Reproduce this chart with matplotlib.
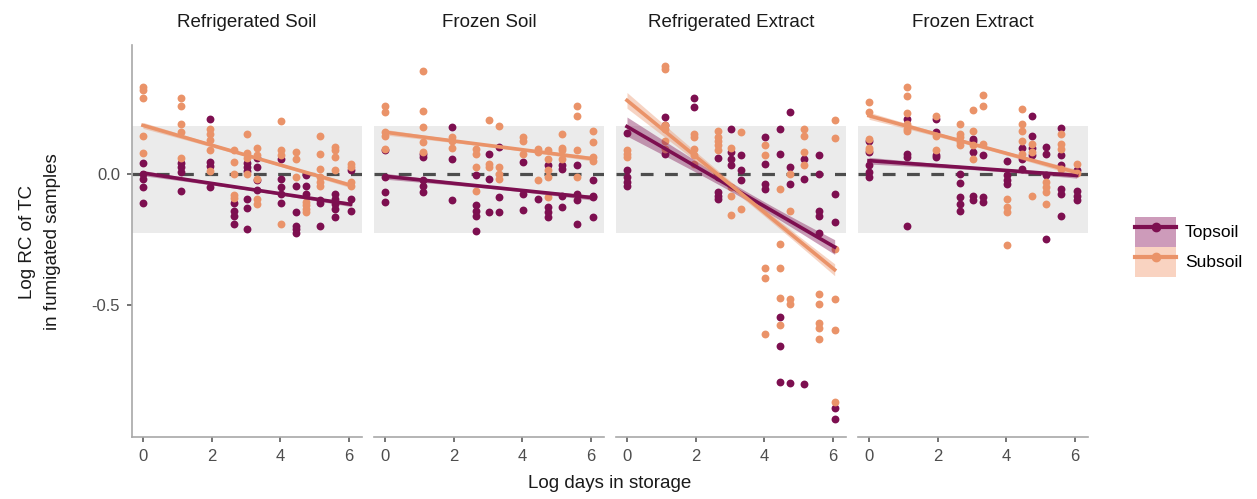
import numpy as np
import matplotlib.pyplot as plt
from matplotlib.patches import Patch
from matplotlib.lines import Line2D

plt.rcParams['font.family'] = ['Liberation Sans', 'DejaVu Sans']

# log storage days (x positions of sampling times)
log_days = [0, 1.1, 1.95, 2.64, 3.04, 3.33, 4.03, 4.45, 4.75, 5.15, 5.6, 6.05]

panels = ['Refrigerated Soil', 'Frozen Soil', 'Refrigerated Extract', 'Frozen Extract']
soils = ['Topsoil', 'Subsoil']

# values per time point
rs_top = [[0.04, 0.0, -0.02, -0.05, -0.11], [0.04, 0.025, 0.006, -0.064],
          [0.21, 0.045, 0.03, -0.05], [-0.11, -0.14, -0.19, -0.16],
          [0.04, 0.025, 0.01, -0.095, -0.13, -0.21], [0.06, 0.025, -0.025, -0.06],
          [0.057, -0.02, -0.05, -0.076, -0.11], [-0.045, -0.146, -0.197, -0.21, -0.226],
          [-0.006, -0.045, -0.076], [-0.1, -0.11, -0.197],
          [-0.076, -0.095, -0.115, -0.134, -0.165], [0.013, -0.095, -0.14]]
rs_sub = [[0.33, 0.32, 0.29, 0.144, 0.08], [0.29, 0.26, 0.19, 0.16, 0.06],
          [0.17, 0.15, 0.13, 0.09, 0.01], [0.09, 0.045, 0.0, -0.08, -0.09],
          [0.15, 0.08, 0.06, 0.0], [0.10, 0.07, -0.02, -0.095, -0.115],
          [0.20, 0.09, 0.07, -0.19], [0.083, 0.057, -0.013],
          [-0.108, -0.12, -0.134, -0.146], [0.146, 0.076, 0.019, -0.013, -0.032, -0.045],
          [0.104, 0.089, 0.064, 0.015], [0.038, 0.025, -0.03, -0.045]]

fs_top = [[0.089, -0.013, -0.07, -0.108], [0.076, 0.066, -0.025, -0.045, -0.07],
          [0.178, 0.057, -0.1], [-0.006, -0.12, -0.14, -0.16, -0.216],
          [0.076, -0.019, -0.146], [0.104, -0.089, -0.146],
          [0.045, -0.076, -0.137], [-0.095],
          [0.032, -0.127, -0.146, -0.165], [0.032, 0.019, -0.083, -0.127],
          [0.032, -0.076, -0.1, -0.19], [-0.025, -0.083, -0.089, -0.165]]
fs_sub = [[0.26, 0.235, 0.16, 0.146, 0.095], [0.39, 0.24, 0.18, 0.12, 0.083],
          [0.14, 0.127, 0.1], [0.095, 0.076, 0.025, -0.064],
          [0.206, 0.038, 0.025], [0.184, 0.025, 0.0, -0.019],
          [0.14, 0.127, 0.076], [0.095, 0.083, -0.025],
          [0.089, 0.057, 0.013, -0.013, -0.089], [0.153, 0.1, 0.089, 0.057],
          [0.26, 0.22, 0.092, -0.013], [0.165, 0.12, 0.064, 0.05]]

re_top = [[0.155, 0.013, -0.013, -0.032, -0.047], [0.216, 0.185, 0.076],
          [0.289, 0.254], [0.061, -0.013, -0.07, -0.083, -0.095],
          [0.172, 0.083, 0.057, 0.032], [0.07, 0.013, -0.025],
          [0.14, 0.038, -0.038, -0.057], [0.172, 0.076, -0.545, -0.655, -0.79],
          [0.235, 0.025, -0.038, -0.795], [0.057, -0.019, -0.8],
          [0.073, 0.0, -0.14, -0.16, -0.223], [-0.076, -0.184, -0.888, -0.931]]
re_sub = [[0.089, 0.076, 0.064], [0.41, 0.40, 0.185, 0.17, 0.127, 0.095],
          [0.153, 0.14, 0.095, 0.07, 0.038], [0.165, 0.14, 0.127, 0.108, 0.089],
          [0.1, -0.05, -0.083, -0.155], [0.16, -0.134],
          [0.108, 0.07, -0.356, -0.394, -0.608], [-0.057, -0.267, -0.356, -0.473, -0.575],
          [0.0, -0.14, -0.477, -0.496], [0.172, 0.146, 0.083, 0.032],
          [-0.458, -0.496, -0.566, -0.585, -0.626], [0.204, 0.136, -0.284, -0.477, -0.594, -0.868]]

fe_top = [[0.127, 0.083, 0.032, 0.006, -0.013], [0.21, 0.076, 0.064, -0.197],
          [0.21, 0.16, 0.07, 0.064], [0.0, -0.035, -0.087, -0.114, -0.142],
          [0.134, 0.127, 0.083, -0.083, -0.1], [0.07, -0.089, -0.108],
          [0.05, -0.006, -0.025, -0.038], [0.1, 0.057, 0.019],
          [0.22, 0.146, 0.1, 0.07], [0.104, 0.076, -0.003, -0.248],
          [0.175, 0.07, 0.032, -0.057, -0.076, -0.16], [0.013, -0.064, -0.083, -0.1]]
fe_sub = [[0.274, 0.235, 0.134, 0.1, 0.089], [0.33, 0.295, 0.23, 0.19, 0.172, 0.165],
          [0.22, 0.146, 0.089], [0.19, 0.153, 0.14, 0.12, 0.108],
          [0.242, 0.165, 0.108, 0.057], [0.3, 0.26, 0.115],
          [-0.095, -0.127, -0.146, -0.27], [0.248, 0.19, 0.165, 0.127, 0.076],
          [0.115, 0.083, -0.083], [-0.032, -0.05, -0.07, -0.114],
          [0.153, 0.115, 0.095, 0.019], [0.036, 0.003]]

data = {
    'Refrigerated Soil': (rs_top, rs_sub),
    'Frozen Soil': (fs_top, fs_sub),
    'Refrigerated Extract': (re_top, re_sub),
    'Frozen Extract': (fe_top, fe_sub),
}

colors = {'Topsoil': '#7D0F50', 'Subsoil': '#EA9369'}
key_fill = {'Topsoil': '#CD9BBA', 'Subsoil': '#F9D3C1'}
axis_grey = '#A8A8A8'
text_grey = '#4D4D4D'


def flatten(groups):
    xs, ys = [], []
    for xv, vals in zip(log_days, groups):
        xs += [xv] * len(vals)
        ys += vals
    return np.array(xs), np.array(ys)


def fit_with_ci(x, y, k=0.4):
    # linear fit; the ribbon in the original is very thin, so the band is narrowed
    b, a = np.polyfit(x, y, 1)
    n = len(x)
    resid = y - (a + b * x)
    s = np.sqrt(np.sum(resid ** 2) / (n - 2))
    xg = np.linspace(x.min(), x.max(), 80)
    se = s * np.sqrt(1 / n + (xg - x.mean()) ** 2 / np.sum((x - x.mean()) ** 2))
    yg = a + b * xg
    return xg, yg, yg - k * se, yg + k * se


W, H = 1257, 499
fig = plt.figure(figsize=(W / 100, H / 100), dpi=100)

lefts = [132, 374, 616, 858]
pw = 230
top, bottom = 45, 437

for i, name in enumerate(panels):
    ax = fig.add_axes([lefts[i] / W, 1 - bottom / H, pw / W, (bottom - top) / H])
    ax.set_xlim(-0.32, 6.38)
    ax.set_ylim(-1.0, 0.49)

    # +/- 20% band and zero line
    ax.axhspan(np.log(0.8), np.log(1.2), color='#EBEBEB', lw=0, zorder=0)
    ax.axhline(0, color='#4D4D4D', lw=2.3, ls=(0, (4, 3.6)), zorder=1)

    for soil, groups in zip(soils, data[name]):
        x, y = flatten(groups)
        ax.scatter(x, y, s=32, color=colors[soil], lw=0, zorder=2)
    for soil, groups in zip(soils, data[name]):
        x, y = flatten(groups)
        xg, yg, lo, hi = fit_with_ci(x, y)
        ax.fill_between(xg, lo, hi, color=colors[soil], alpha=0.4, lw=0, zorder=3)
        ax.plot(xg, yg, color=colors[soil], lw=2.6, zorder=4)

    ax.set_title(name, fontsize=13.5, color='#1A1A1A', pad=13)
    ax.set_xticks([0, 2, 4, 6])
    ax.set_yticks([0.0, -0.5])
    ax.set_yticklabels(['0.0', '-0.5'])
    for side in ['top', 'right']:
        ax.spines[side].set_visible(False)
    ax.spines['bottom'].set_color(axis_grey)
    ax.spines['bottom'].set_linewidth(1.2)
    ax.spines['left'].set_color(axis_grey)
    ax.spines['left'].set_linewidth(1.2)
    ax.tick_params(colors=text_grey, labelsize=12, length=3.5, width=1.1, pad=5)
    if i > 0:
        ax.spines['left'].set_visible(False)
        ax.tick_params(axis='y', left=False, labelleft=False)

fig.text(610 / W, 1 - 484 / H, 'Log days in storage', ha='center', va='center',
         fontsize=13.5, color='#1A1A1A')
fig.text(40 / W, 1 - 242 / H, 'Log RC of TC\nin fumigated samples', ha='center',
         va='center', rotation=90, fontsize=13.5, color='#1A1A1A', linespacing=1.6)

handles = []
for soil in soils:
    handles.append((Patch(facecolor=key_fill[soil], edgecolor='none'),
                    Line2D([], [], color=colors[soil], lw=3, marker='o', ms=6)))
fig.legend(handles, soils, loc='center left', bbox_to_anchor=(1126 / W, 1 - 247 / H),
           frameon=False, fontsize=12.5, handlelength=2.4, handleheight=2.3,
           labelspacing=0, borderpad=0, handletextpad=0.5)

fig.savefig('out.png', dpi=100)
